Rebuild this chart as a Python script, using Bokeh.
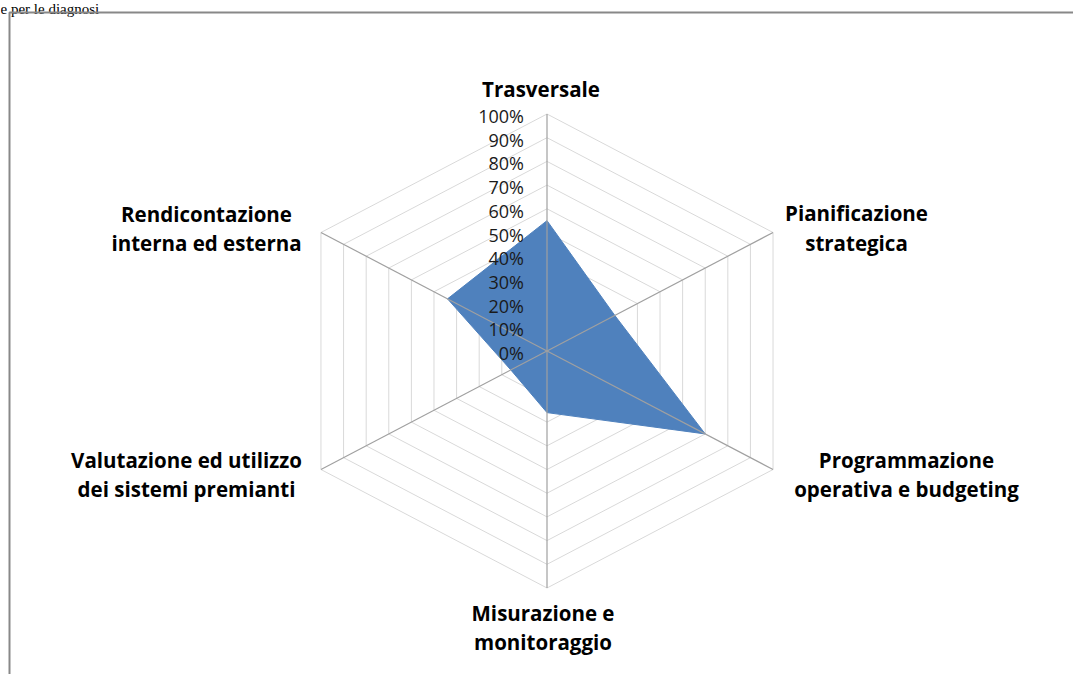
import numpy as np
from bokeh.plotting import figure
from bokeh.models import Range1d, ColumnDataSource
from bokeh.core.properties import value
from bokeh.embed import file_html
from bokeh.resources import INLINE

# ---- data ----
categories = [
    "Trasversale",
    "Pianificazione\nstrategica",
    "Programmazione\noperativa e budgeting",
    "Misurazione e\nmonitoraggio",
    "Valutazione ed utilizzo\ndei sistemi premianti",
    "Rendicontazione\ninterna ed esterna",
]
scores = [0.55, 0.30, 0.70, 0.26, 0.16, 0.44]
tick_levels = [0.0, 0.1, 0.2, 0.3, 0.4, 0.5, 0.6, 0.7, 0.8, 0.9, 1.0]
tick_labels = ["0%", "10%", "20%", "30%", "40%", "50%", "60%", "70%", "80%", "90%", "100%"]
header_text = "e per le diagnosi"

# ---- layout constants (pixels) ----
W, H = 1073, 674
CX, CY = 546.5, 350.5   # radar centre, px from top-left of the figure
SX, SY = 261.0, 237.0   # px per unit radius (horizontal, vertical)

def px_x(px):
    return (px - CX) / SX

def px_y(py):
    return (CY - py) / SY

p = figure(width=W, height=H, output_backend="svg", toolbar_location=None,
           x_range=Range1d(px_x(0), px_x(W)), y_range=Range1d(px_y(H), px_y(0)),
           min_border=0)
p.axis.visible = False
p.grid.visible = False
p.outline_line_color = None
p.background_fill_color = "white"
p.border_fill_color = "white"

n = len(categories)
theta = np.arange(n) * 2 * np.pi / n

# concentric hexagon gridlines
for lev in tick_levels[1:]:
    xs = list(lev * np.sin(theta)) + [lev * np.sin(theta[0])]
    ys = list(lev * np.cos(theta)) + [lev * np.cos(theta[0])]
    p.line(xs, ys, line_color="#d9d9d9", line_width=1)

# data polygon
r = np.array(scores)
p.patch(list(r * np.sin(theta)), list(r * np.cos(theta)),
        fill_color="#4f81bd", line_color="#4f81bd", line_width=1)

# spokes
p.segment(x0=[0] * n, y0=[0] * n, x1=list(np.sin(theta)), y1=list(np.cos(theta)),
          line_color="#a0a0a0", line_width=1.2)

# radial tick labels
src_t = ColumnDataSource(dict(x=[0.0] * len(tick_levels), y=tick_levels, t=tick_labels))
p.text(x="x", y="y", text="t", source=src_t, x_offset=-23, y_offset=2,
       text_align="right", text_baseline="middle",
       text_font=value("Open Sans"), text_font_size="18px", text_color="#1a1a1a")

# category labels (centre of the label block, px)
label_px = [(540.5, 88), (856, 227.5), (906, 474), (542.5, 627), (186, 474), (206, 228)]
src_c = ColumnDataSource(dict(
    x=[px_x(a) for a, b in label_px],
    y=[px_y(b) for a, b in label_px],
    t=categories))
p.text(x="x", y="y", text="t", source=src_c,
       text_align="center", text_baseline="middle", text_line_height=1.06,
       text_font=value("Open Sans"), text_font_style="bold",
       text_font_size="20.5px", text_color="#000000")

# page text above the chart frame
p.text(x=[px_x(0)], y=[px_y(0)], text=[header_text],
       text_align="left", text_baseline="top",
       text_font=value("Liberation Serif"), text_font_size="15px", text_color="#000000")

# frame border (left and top edges visible)
p.line([px_x(W + 5), px_x(9), px_x(9)], [px_y(12), px_y(12), px_y(H + 5)],
       line_color="#888888", line_width=2)

open("out.html", "w").write(file_html(p, INLINE))
